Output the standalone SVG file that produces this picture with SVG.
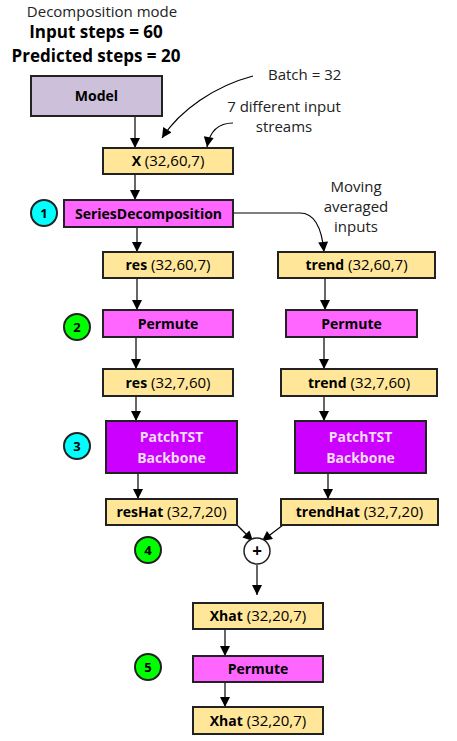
<svg xmlns="http://www.w3.org/2000/svg" width="457" height="741" viewBox="0 0 457 741">
<defs>
<marker id="ah" viewBox="0 0 10 10" refX="10" refY="5" markerWidth="11" markerHeight="10" markerUnits="userSpaceOnUse" orient="auto">
<path d="M0,0 L10,5 L0,10 z" fill="#000"/>
</marker>
<style>
text{font-family:"Open Sans","Liberation Sans",sans-serif;fill:#000}
.t{font-size:14px;text-anchor:middle}
.d{font-size:15px;text-anchor:middle}
.d tspan.b{font-size:14px}
.b{font-weight:bold}
.yel{fill:#FFE699;stroke:#222;stroke-width:2}
.mag{fill:#FF66FF;stroke:#222;stroke-width:2}
.pur{fill:#CC00FF;stroke:#222;stroke-width:2}
.lav{fill:#CCC0DA;stroke:#222;stroke-width:2}
.cy{fill:#00FFFF;stroke:#222;stroke-width:2}
.gr{fill:#00FF00;stroke:#222;stroke-width:2}
.w{fill:#F2DCF2}
.c{stroke:#000;stroke-width:1.2;fill:none}
.note{font-size:15px;fill:#222}
</style>
</defs>

<g id="title">
<text x="102" y="17" class="note" text-anchor="middle">Decomposition mode</text>
<text x="96" y="38" class="t b" style="font-size:17px">Input steps = 60</text>
<text x="96" y="62" class="t b" style="font-size:17px">Predicted steps = 20</text>
</g>

<g id="connectors">
<line x1="135" y1="116" x2="135" y2="148" class="c" marker-end="url(#ah)"/>
<line x1="135" y1="174" x2="135" y2="200" class="c" marker-end="url(#ah)"/>
<path d="M253,76 C215,86 180,110 162,138" class="c" marker-end="url(#ah)"/>
<path d="M233,123 C220,123 210,130 207,147" class="c" marker-end="url(#ah)"/>
<path d="M233,213 L300,213 C315,213 322,230 324,252" class="c" marker-end="url(#ah)"/>
<line x1="137" y1="227" x2="137" y2="252" class="c" marker-end="url(#ah)"/>
<line x1="137" y1="278" x2="137" y2="310" class="c" marker-end="url(#ah)"/>
<line x1="325" y1="278" x2="325" y2="310" class="c" marker-end="url(#ah)"/>
<line x1="136" y1="337" x2="136" y2="369" class="c" marker-end="url(#ah)"/>
<line x1="324" y1="337" x2="324" y2="369" class="c" marker-end="url(#ah)"/>
<line x1="136" y1="396" x2="136" y2="421" class="c" marker-end="url(#ah)"/>
<line x1="324" y1="396" x2="324" y2="421" class="c" marker-end="url(#ah)"/>
<line x1="138" y1="473" x2="138" y2="499" class="c" marker-end="url(#ah)"/>
<line x1="328" y1="473" x2="328" y2="499" class="c" marker-end="url(#ah)"/>
<line x1="237" y1="525" x2="253" y2="541" class="c" marker-end="url(#ah)"/>
<line x1="283" y1="525" x2="262" y2="541" class="c" marker-end="url(#ah)"/>
<line x1="257" y1="565" x2="257" y2="595" class="c" marker-end="url(#ah)"/>
<line x1="225" y1="629" x2="225" y2="656" class="c" marker-end="url(#ah)"/>
<line x1="225" y1="682" x2="225" y2="707" class="c" marker-end="url(#ah)"/>
</g>

<g id="notes">
<text x="268" y="80" class="note">Batch = 32</text>
<text x="284" y="112" class="note" text-anchor="middle">7 different input</text>
<text x="284" y="132" class="note" text-anchor="middle">streams</text>
<text x="356" y="192" class="note" text-anchor="middle">Moving</text>
<text x="356" y="212" class="note" text-anchor="middle">averaged</text>
<text x="356" y="232" class="note" text-anchor="middle">inputs</text>
</g>

<g id="model">
<rect x="31" y="76" width="131" height="40" class="lav"/>
<text x="96.5" y="101" class="t b">Model</text>
</g>
<g id="x">
<rect x="103" y="148" width="130" height="26" class="yel"/>
<text x="168" y="166" class="d"><tspan class="b">X</tspan> (32,60,7)</text>
</g>
<g id="seriesdecomp">
<rect x="64" y="200" width="169" height="27" class="mag"/>
<text x="148.5" y="218.5" class="t b">SeriesDecomposition</text>
</g>
<g id="step1"><circle cx="44" cy="213" r="13" class="cy"/><text x="44" y="218" class="t b" style="font-size:13px">1</text></g>
<g id="res1">
<rect x="103" y="252" width="130" height="26" class="yel"/>
<text x="168" y="270" class="d"><tspan class="b">res</tspan> (32,60,7)</text>
</g>
<g id="trend1">
<rect x="278" y="252" width="157" height="26" class="yel"/>
<text x="356.5" y="270" class="d"><tspan class="b">trend</tspan> (32,60,7)</text>
</g>
<g id="permute1">
<rect x="103" y="310" width="130" height="27" class="mag"/>
<text x="168" y="328.5" class="t b">Permute</text>
</g>
<g id="permute2">
<rect x="286" y="310" width="131" height="27" class="mag"/>
<text x="351.5" y="328.5" class="t b">Permute</text>
</g>
<g id="step2"><circle cx="77" cy="327" r="13" class="gr"/><text x="77" y="332" class="t b" style="font-size:13px">2</text></g>
<g id="res2">
<rect x="103" y="369" width="130" height="27" class="yel"/>
<text x="168" y="387.5" class="d"><tspan class="b">res</tspan> (32,7,60)</text>
</g>
<g id="trend2">
<rect x="281" y="369" width="156" height="27" class="yel"/>
<text x="359" y="387.5" class="d"><tspan class="b">trend</tspan> (32,7,60)</text>
</g>
<g id="patch1">
<rect x="106" y="421" width="131" height="52" class="pur"/>
<text x="171.5" y="442" class="t b w">PatchTST</text>
<text x="171.5" y="463" class="t b w">Backbone</text>
</g>
<g id="patch2">
<rect x="295" y="421" width="131" height="52" class="pur"/>
<text x="360.5" y="442" class="t b w">PatchTST</text>
<text x="360.5" y="463" class="t b w">Backbone</text>
</g>
<g id="step3"><circle cx="77" cy="446" r="13" class="cy"/><text x="77" y="451" class="t b" style="font-size:13px">3</text></g>
<g id="reshat">
<rect x="106" y="499" width="131" height="26" class="yel"/>
<text x="171.5" y="517" class="d"><tspan class="b">resHat</tspan> (32,7,20)</text>
</g>
<g id="trendhat">
<rect x="281" y="499" width="157" height="26" class="yel"/>
<text x="359.5" y="517" class="d"><tspan class="b">trendHat</tspan> (32,7,20)</text>
</g>
<g id="step4"><circle cx="148" cy="550" r="13" class="gr"/><text x="148" y="555" class="t b" style="font-size:13px">4</text></g>
<g id="plus">
<circle cx="257" cy="551" r="13" fill="#fff" stroke="#222" stroke-width="1.5"/>
<text x="257" y="557" class="t b" style="font-size:17px">+</text>
</g>
<g id="xhat1">
<rect x="193" y="603" width="130" height="26" class="yel"/>
<text x="258" y="621" class="d"><tspan class="b">Xhat</tspan> (32,20,7)</text>
</g>
<g id="permute3">
<rect x="193" y="656" width="130" height="26" class="mag"/>
<text x="258" y="674" class="t b">Permute</text>
</g>
<g id="step5"><circle cx="148" cy="667" r="13" class="gr"/><text x="148" y="672" class="t b" style="font-size:13px">5</text></g>
<g id="xhat2">
<rect x="193" y="707" width="130" height="27" class="yel"/>
<text x="258" y="725.5" class="d"><tspan class="b">Xhat</tspan> (32,20,7)</text>
</g>
</svg>
